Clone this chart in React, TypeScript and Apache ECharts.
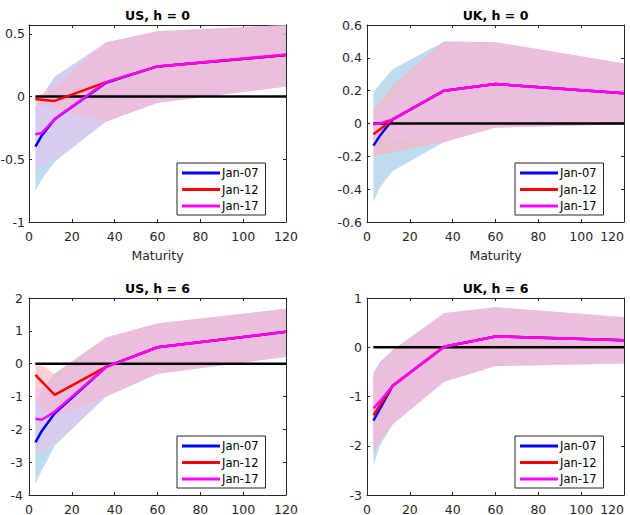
import React, { useEffect, useRef } from "react";
import * as echarts from "echarts";

// Maturities (months)
const maturities = [3, 6, 12, 36, 60, 120];
const xTicks = [0, 20, 40, 60, 80, 100, 120];
const seriesNames = ["Jan-07", "Jan-12", "Jan-17"];
const panelTitles = ["US, h = 0", "UK, h = 0", "US, h = 6", "UK, h = 6"];

// US, h = 0
const usH0Jan07 = [-0.40, -0.31, -0.18, 0.11, 0.24, 0.33];
const usH0Jan12 = [-0.02, -0.025, -0.035, 0.115, 0.24, 0.33];
const usH0Jan17 = [-0.30, -0.29, -0.18, 0.115, 0.24, 0.335];
const usH0Jan07Lo = [-0.75, -0.66, -0.52, -0.20, -0.05, 0.08];
const usH0Jan07Hi = [-0.08, 0.0, 0.16, 0.43, 0.52, 0.57];
const usH0Jan12Lo = [-0.06, -0.07, -0.10, -0.20, -0.05, 0.08];
const usH0Jan12Hi = [0.0, 0.02, 0.08, 0.43, 0.52, 0.57];
const usH0Jan17Lo = [-0.56, -0.57, -0.50, -0.20, -0.05, 0.08];
const usH0Jan17Hi = [-0.07, 0.0, 0.15, 0.43, 0.52, 0.57];

// UK, h = 0
const ukH0Jan07 = [-0.135, -0.075, 0.025, 0.20, 0.24, 0.185];
const ukH0Jan12 = [-0.066, -0.036, 0.025, 0.20, 0.24, 0.185];
const ukH0Jan17 = [-0.005, 0.0, 0.025, 0.20, 0.24, 0.185];
const ukH0Jan07Lo = [-0.48, -0.39, -0.29, -0.113, -0.025, -0.005];
const ukH0Jan07Hi = [0.19, 0.24, 0.33, 0.50, 0.495, 0.365];
const ukH0Jan12Lo = [-0.205, -0.19, -0.175, -0.113, -0.025, -0.005];
const ukH0Jan12Hi = [0.09, 0.13, 0.235, 0.50, 0.495, 0.365];
const ukH0Jan17Lo = [-0.03, -0.06, -0.10, -0.113, -0.025, -0.005];
const ukH0Jan17Hi = [0.03, 0.08, 0.16, 0.50, 0.495, 0.365];

// US, h = 6
const usH6Jan07 = [-2.40, -2.05, -1.51, -0.10, 0.50, 0.97];
const usH6Jan12 = [-0.34, -0.55, -0.95, -0.10, 0.50, 0.97];
const usH6Jan17 = [-1.68, -1.71, -1.46, -0.10, 0.50, 0.97];
const usH6Jan07Lo = [-3.66, -3.25, -2.50, -1.00, -0.31, 0.21];
const usH6Jan07Hi = [-1.20, -0.85, -0.29, 0.80, 1.22, 1.67];
const usH6Jan12Lo = [-1.15, -1.35, -1.60, -1.00, -0.31, 0.21];
const usH6Jan12Hi = [0.0, -0.05, -0.32, 0.80, 1.22, 1.67];
const usH6Jan17Lo = [-2.73, -2.72, -2.45, -1.00, -0.31, 0.21];
const usH6Jan17Hi = [-0.70, -0.75, -0.55, 0.80, 1.22, 1.67];

// UK, h = 6
const ukH6Jan07 = [-1.49, -1.25, -0.78, 0.01, 0.22, 0.14];
const ukH6Jan12 = [-1.38, -1.18, -0.78, 0.01, 0.22, 0.14];
const ukH6Jan17 = [-1.24, -1.10, -0.78, 0.01, 0.22, 0.14];
const ukH6Jan07Lo = [-2.40, -2.00, -1.57, -0.70, -0.38, -0.33];
const ukH6Jan07Hi = [-0.52, -0.30, -0.05, 0.69, 0.81, 0.61];
const ukH6Jan12Lo = [-2.15, -1.90, -1.56, -0.70, -0.38, -0.33];
const ukH6Jan12Hi = [-0.55, -0.32, -0.07, 0.69, 0.81, 0.61];
const ukH6Jan17Lo = [-2.00, -1.80, -1.55, -0.70, -0.38, -0.33];
const ukH6Jan17Hi = [-0.57, -0.33, -0.08, 0.69, 0.81, 0.61];

// y-axis ranges per panel
const yMins = [-1, -0.6, -4, -3];
const yMaxs = [0.57, 0.6, 2, 1];
const yIntervals = [0.5, 0.2, 1, 1];

const lineColors = ["#0000FF", "#FF0000", "#FF00FF"];
const bandColors = ["rgba(0,114,189,0.25)", "rgba(255,175,187,0.62)", "rgba(241,188,238,0.5)"];

const panels = [
  { lines: [usH0Jan07, usH0Jan12, usH0Jan17], lo: [usH0Jan07Lo, usH0Jan12Lo, usH0Jan17Lo], hi: [usH0Jan07Hi, usH0Jan12Hi, usH0Jan17Hi] },
  { lines: [ukH0Jan07, ukH0Jan12, ukH0Jan17], lo: [ukH0Jan07Lo, ukH0Jan12Lo, ukH0Jan17Lo], hi: [ukH0Jan07Hi, ukH0Jan12Hi, ukH0Jan17Hi] },
  { lines: [usH6Jan07, usH6Jan12, usH6Jan17], lo: [usH6Jan07Lo, usH6Jan12Lo, usH6Jan17Lo], hi: [usH6Jan07Hi, usH6Jan12Hi, usH6Jan17Hi] },
  { lines: [ukH6Jan07, ukH6Jan12, ukH6Jan17], lo: [ukH6Jan07Lo, ukH6Jan12Lo, ukH6Jan17Lo], hi: [ukH6Jan07Hi, ukH6Jan12Hi, ukH6Jan17Hi] },
];

const FONT = "DejaVu Sans";
const AXIS_COLOR = "#262626";

const gridLefts = [29, 367, 29, 367];
const gridTops = [25, 25, 298, 298];
const GRID_W = 257;
const GRID_H = 197;
const yLabelMargins = [4, 5, 6, 5];

function buildOption() {
  const grid: any[] = [];
  const xAxis: any[] = [];
  const yAxis: any[] = [];
  const title: any[] = [];
  const legend: any[] = [];
  const series: any[] = [];

  panels.forEach((panel, p) => {
    grid.push({
      left: gridLefts[p], top: gridTops[p], width: GRID_W, height: GRID_H,
      containLabel: false, outerBoundsMode: "none",
    });
    const axisLine = { show: true, onZero: false, lineStyle: { color: AXIS_COLOR, width: 1 } };
    const axisTick = { show: true, inside: true, length: 3, lineStyle: { color: AXIS_COLOR, width: 1 } };
    xAxis.push({
      type: "value", gridIndex: p, position: "bottom", min: xTicks[0], max: xTicks[xTicks.length - 1], interval: 20,
      axisLine, axisTick, splitLine: { show: false },
      axisLabel: {
        show: true, margin: 8, fontSize: 12.5, lineHeight: 12, fontFamily: FONT, color: AXIS_COLOR, hideOverlap: false,
        alignMaxLabel: p % 2 === 1 ? "right" : null,
      },
      name: p < 2 ? "Maturity" : "", nameLocation: "middle", nameGap: 27,
      nameTextStyle: { fontSize: 12.5, fontFamily: FONT, color: AXIS_COLOR },
    });
    xAxis.push({
      type: "value", gridIndex: p, position: "top", min: xTicks[0], max: xTicks[xTicks.length - 1], interval: 20,
      axisLine, axisTick, splitLine: { show: false }, axisLabel: { show: false },
    });
    yAxis.push({
      type: "value", gridIndex: p, position: "left", min: yMins[p], max: yMaxs[p], interval: yIntervals[p],
      axisLine, axisTick, splitLine: { show: false },
      axisLabel: {
        show: true, margin: yLabelMargins[p], fontSize: 12.5, fontFamily: FONT, color: AXIS_COLOR,
        showMaxLabel: p !== 0, hideOverlap: false,
      },
    });
    yAxis.push({
      type: "value", gridIndex: p, position: "right", min: yMins[p], max: yMaxs[p], interval: yIntervals[p],
      axisLine, axisTick, splitLine: { show: false }, axisLabel: { show: false },
    });
    title.push({
      text: panelTitles[p], left: gridLefts[p] + GRID_W / 2, top: gridTops[p] - 16, textAlign: "center", padding: 0,
      textStyle: { fontSize: 12.5, fontWeight: "bold", fontFamily: FONT, color: "#000" },
    });
    legend.push({
      data: seriesNames, orient: "vertical", left: gridLefts[p] + 148, top: gridTops[p] + 138,
      icon: "rect", itemWidth: 38, itemHeight: 3, itemGap: 2.5, selectedMode: false,
      padding: [3, 7, 2, 5], borderColor: AXIS_COLOR, borderWidth: 1, backgroundColor: "#fff", borderRadius: 0,
      textStyle: { fontSize: 11.5, fontFamily: FONT, color: "#000", lineHeight: 14, padding: [0, 0, 0, -3] },
    });

    const xi = p * 2;
    const yi = p * 2;
    // confidence bands
    for (let s = 0; s < 3; s++) {
      const lo = panel.lo[s];
      const hi = panel.hi[s];
      const fill = bandColors[s];
      series.push({
        type: "custom", name: "band-" + seriesNames[s], xAxisIndex: xi, yAxisIndex: yi, silent: true, z: 1, clip: true,
        data: maturities.map((m, i) => [m, lo[i], hi[i]]),
        encode: { x: 0, y: [1, 2] },
        renderItem: (params: any, api: any) => {
          if (params.dataIndex !== 0) return { type: "group", children: [] };
          const pts: number[][] = [];
          for (let i = 0; i < maturities.length; i++) pts.push(api.coord([maturities[i], hi[i]]));
          for (let i = maturities.length - 1; i >= 0; i--) pts.push(api.coord([maturities[i], lo[i]]));
          return { type: "polygon", shape: { points: pts }, style: { fill, stroke: "none" } };
        },
      });
    }
    // zero line
    series.push({
      type: "line", name: "zero", xAxisIndex: xi, yAxisIndex: yi, silent: true, z: 2,
      data: [[maturities[0], 0], [maturities[maturities.length - 1], 0]],
      symbol: "none", color: "#000", lineStyle: { color: "#000", width: 2.5 },
    });
    // lines
    for (let s = 0; s < 3; s++) {
      const vals = panel.lines[s];
      series.push({
        type: "line", name: seriesNames[s], xAxisIndex: xi, yAxisIndex: yi, silent: true, z: 3 + s,
        data: maturities.map((m, i) => [m, vals[i]]),
        symbol: "none", color: lineColors[s],
        itemStyle: { color: lineColors[s] },
        lineStyle: { color: lineColors[s], width: 2.5 },
      });
    }
  });

  return { animation: false, backgroundColor: "#fff", grid, xAxis, yAxis, title, legend, series, tooltip: { show: false } };
}

export default function App() {
  const ref = useRef<HTMLDivElement>(null);
  useEffect(() => {
    if (!ref.current) return;
    const chart = echarts.init(ref.current, undefined, { renderer: "svg" });
    chart.setOption(buildOption() as any);
    return () => chart.dispose();
  }, []);
  return <div ref={ref} style={{ position: "absolute", left: 0, top: 0, width: 630, height: 515 }} />;
}
